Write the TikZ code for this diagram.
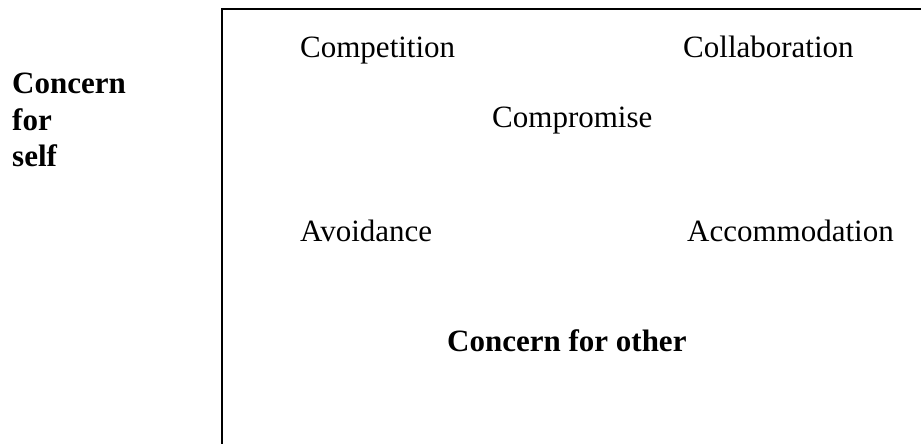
\documentclass[tikz,border=0pt]{standalone}
\usepackage{fontspec}
\setmainfont{Liberation Serif}
\usepackage{tikz}

\begin{document}
\begin{tikzpicture}[x=1pt,y=1pt]
% Styles
\tikzstyle{cadre}=[line width=2pt]
\tikzstyle{mode}=[anchor=base west,inner sep=0pt,font=\fontsize{31}{36.5}\selectfont]
\tikzstyle{axe}=[mode,font=\fontsize{31}{36.5}\selectfont\bfseries]
% Dimensions
\def\Haut{444}
\def\Large{921}
\useasboundingbox (0,0) rectangle (\Large,\Haut);
% Cadre
\coordinate (Coin) at (222,{\Haut-9});
\coordinate (CoinD) at (\Large,{\Haut-9});
\coordinate (CoinB) at (222,0);
\draw[cadre] (CoinD)--(Coin)--(CoinB);
% Noeuds
\node[mode] (Competition) at (300,{\Haut-58}) {Competition};
\node[mode] (Collaboration) at (683,{\Haut-58}) {Collaboration};
\node[mode] (Compromise) at (492,{\Haut-128}) {Compromise};
\node[mode] (Avoidance) at (300,{\Haut-242}) {Avoidance};
\node[mode] (Accommodation) at (687,{\Haut-242}) {Accommodation};
\node[axe] (Autre) at (447,{\Haut-352}) {Concern for other};
% (base = ligne du bas)
\node[axe,align=left] (Soi) at (12,{\Haut-167}) {Concern\\for\\self};
\end{tikzpicture}
\end{document}
